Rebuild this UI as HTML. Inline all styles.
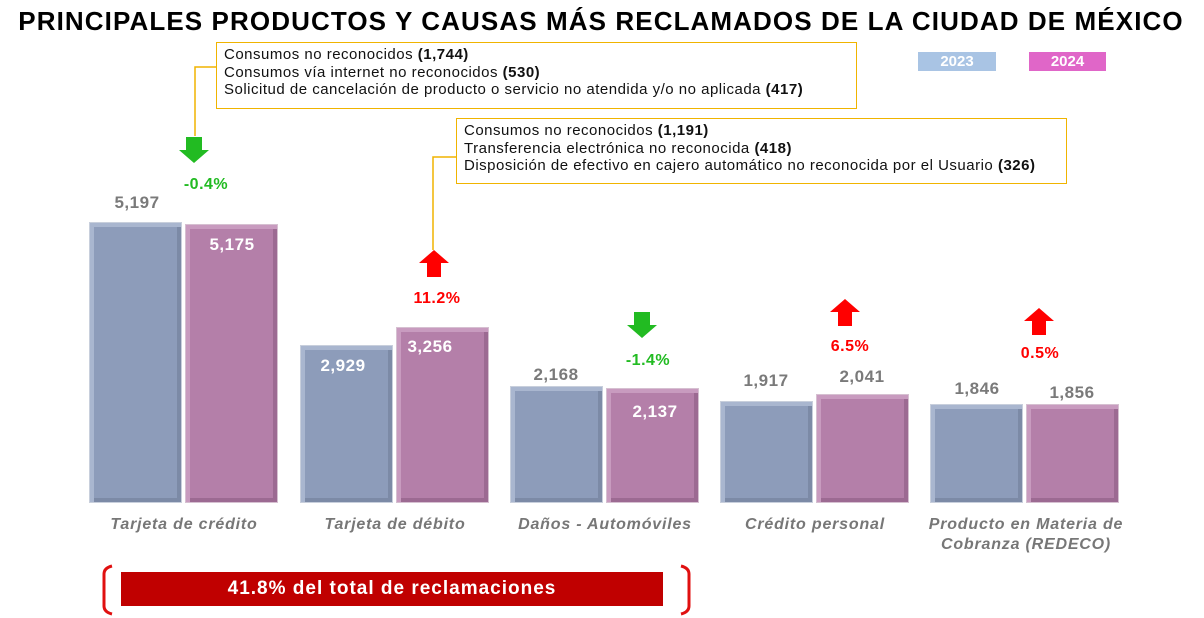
<!DOCTYPE html>
<html><head><meta charset="utf-8"><style>
body{margin:0;width:1204px;height:618px;background:#fff;position:relative;overflow:hidden;font-family:"Liberation Sans",sans-serif}
.a{position:absolute}
.t{position:absolute;font-weight:bold;transform:translateX(-50%);white-space:nowrap}
.b23{position:absolute;background:#8d9cba;box-shadow:inset 4px 4px 0 #a9b6cf,inset -4px -4px 0 #7c8aa6;border:1px solid #c8cfdc}
.b24{position:absolute;background:#b47fa9;box-shadow:inset 4px 4px 0 #c89bbf,inset -4px -4px 0 #9c6a92;border:1px solid #d6c0d1}
.g{color:#7a7a7a;font-size:17px;letter-spacing:0.5px}
.w{color:#fff;font-size:17px;letter-spacing:0.5px}
.cat{position:absolute;transform:translateX(-50%);text-align:center;font-style:italic;font-weight:bold;color:#777;font-size:16px;letter-spacing:0.8px;line-height:20px;white-space:nowrap}
.box{position:absolute;border:1.5px solid #f0b400;font-size:15px;letter-spacing:0.5px;line-height:17.5px;padding:3px 7px;box-sizing:border-box;color:#111;white-space:nowrap}
.pct{position:absolute;transform:translateX(-50%);font-weight:bold;font-size:16px;letter-spacing:0.5px}
</style></head><body>
<div class="t" style="left:601px;top:6px;font-size:26px;letter-spacing:1.1px;color:#000">PRINCIPALES PRODUCTOS Y CAUSAS MÁS RECLAMADOS DE LA CIUDAD DE MÉXICO</div>
<div class="a" style="left:918px;top:52px;width:78px;height:19px;background:#a9c4e4;color:#fff;font-weight:bold;font-size:15px;text-align:center;line-height:19px">2023</div>
<div class="a" style="left:1029px;top:52px;width:77px;height:19px;background:#e066c8;color:#fff;font-weight:bold;font-size:15px;text-align:center;line-height:19px">2024</div>

<div class="box" style="left:216px;top:42px;width:641px;height:67px">Consumos no reconocidos <b>(1,744)</b><br>Consumos vía internet no reconocidos <b>(530)</b><br>Solicitud de cancelación de producto o servicio no atendida y/o no aplicada <b>(417)</b></div>
<div class="box" style="left:456px;top:118px;width:611px;height:66px">Consumos no reconocidos <b>(1,191)</b><br>Transferencia electrónica no reconocida <b>(418)</b><br>Disposición de efectivo en cajero automático no reconocida por el Usuario <b>(326)</b></div>
<svg class="a" style="left:0;top:0" width="1204" height="618">
<polyline points="216,67 195,67 195,136" fill="none" stroke="#f0b400" stroke-width="1.5"/>
<polyline points="456,157 433,157 433,250" fill="none" stroke="#f0b400" stroke-width="1.5"/>
<polygon points="186,137 202,137 202,150 209,150 194,163 179,150 186,150" fill="#22bb22"/>
<polygon points="634,312 650,312 650,325 657,325 642,338 627,325 634,325" fill="#22bb22"/>
<polygon points="427,277 441,277 441,263 449,263 434,250 419,263 427,263" fill="#f00"/>
<polygon points="838,326 852,326 852,312 860,312 845,299 830,312 838,312" fill="#f00"/>
<polygon points="1032,335 1046,335 1046,321 1054,321 1039,308 1024,321 1032,321" fill="#f00"/>
<path d="M112,566 Q104,568 104,574 L104,606 Q104,612 112,614" fill="none" stroke="#e01010" stroke-width="3"/>
<path d="M681,566 Q689,568 689,574 L689,606 Q689,612 681,614" fill="none" stroke="#e01010" stroke-width="3"/>
</svg>
<div class="pct" style="left:206px;top:176px;color:#22bb22">-0.4%</div>
<div class="pct" style="left:437px;top:290px;color:#f00">11.2%</div>
<div class="pct" style="left:648px;top:352px;color:#22bb22">-1.4%</div>
<div class="pct" style="left:850px;top:338px;color:#f00">6.5%</div>
<div class="pct" style="left:1040px;top:345px;color:#f00">0.5%</div>

<div class="b23" style="left:89px;top:222px;width:91px;height:279px"></div>
<div class="b24" style="left:185px;top:224px;width:91px;height:277px"></div>
<div class="b23" style="left:300px;top:345px;width:91px;height:156px"></div>
<div class="b24" style="left:396px;top:327px;width:91px;height:174px"></div>
<div class="b23" style="left:510px;top:386px;width:91px;height:115px"></div>
<div class="b24" style="left:606px;top:388px;width:91px;height:113px"></div>
<div class="b23" style="left:720px;top:401px;width:91px;height:100px"></div>
<div class="b24" style="left:816px;top:394px;width:91px;height:107px"></div>
<div class="b23" style="left:930px;top:404px;width:91px;height:97px"></div>
<div class="b24" style="left:1026px;top:404px;width:91px;height:97px"></div>

<div class="t g" style="left:137px;top:193px">5,197</div>
<div class="t w" style="left:232px;top:235px">5,175</div>
<div class="t w" style="left:343px;top:356px">2,929</div>
<div class="t w" style="left:430px;top:337px">3,256</div>
<div class="t g" style="left:556px;top:365px">2,168</div>
<div class="t w" style="left:655px;top:402px">2,137</div>
<div class="t g" style="left:766px;top:371px">1,917</div>
<div class="t g" style="left:862px;top:367px">2,041</div>
<div class="t g" style="left:977px;top:379px">1,846</div>
<div class="t g" style="left:1072px;top:383px">1,856</div>

<div class="cat" style="left:184px;top:515px">Tarjeta de crédito</div>
<div class="cat" style="left:395px;top:515px">Tarjeta de débito</div>
<div class="cat" style="left:605px;top:515px">Daños - Automóviles</div>
<div class="cat" style="left:815px;top:515px">Crédito personal</div>
<div class="cat" style="left:1026px;top:515px">Producto en Materia de<br>Cobranza (REDECO)</div>

<div class="a" style="left:121px;top:572px;width:542px;height:34px;background:#c00000;color:#fff;font-weight:bold;font-size:19px;letter-spacing:1px;text-align:center;line-height:34px">41.8% del total de reclamaciones</div>
</body></html>
